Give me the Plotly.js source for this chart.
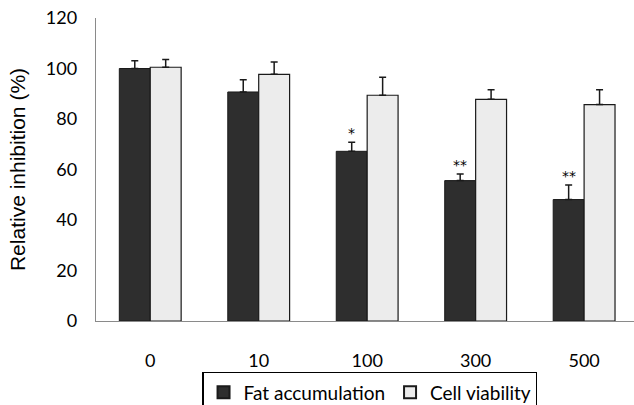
<!DOCTYPE html>
<html>
<head>
<meta charset="utf-8">
<script src="https://cdn.plot.ly/plotly-3.0.1.min.js"></script>
<style>html,body{margin:0;padding:0;background:#fff;}#chart{width:634px;height:405px;}</style>
</head>
<body>
<div id="chart"></div>
<script>
var categories = ["0", "10", "100", "300", "500"];
var fatValues = [100, 90.7, 67.2, 55.6, 48.1];
var fatErrors = [3.1, 4.8, 3.6, 2.6, 5.8];
var cellValues = [100.5, 97.7, 89.4, 87.8, 85.7];
var cellErrors = [3.1, 4.9, 7.1, 3.8, 5.9];
var significance = ["", "", "*", "**", "**"];
var yTicks = [0, 20, 40, 60, 80, 100, 120];

var tickFont = {family: "Lato, 'Open Sans', sans-serif", size: 18, color: "#000"};

var traces = [
  {
    type: "bar", name: "Fat accumulation", x: categories, y: fatValues,
    marker: {color: "#2e2e2e", line: {color: "#1a1a1a", width: 1}},
    error_y: {type: "data", array: fatErrors, arrayminus: fatErrors.map(function(){return 0;}), symmetric: false, color: "#1a1a1a", thickness: 1.5, width: 3.5}
  },
  {
    type: "bar", name: "Cell viability", x: categories, y: cellValues,
    marker: {color: "#ececec", line: {color: "#1a1a1a", width: 1.2}},
    error_y: {type: "data", array: cellErrors, arrayminus: cellErrors.map(function(){return 0;}), symmetric: false, color: "#1a1a1a", thickness: 1.5, width: 3.5}
  }
];

var annotations = [];
for (var i = 0; i < categories.length; i++) {
  if (significance[i]) {
    annotations.push({
      x: i, y: fatValues[i] + fatErrors[i], xref: "x", yref: "y",
      text: significance[i], showarrow: false, xshift: -15.5, yanchor: "bottom", yshift: -1,
      font: {family: "'DejaVu Sans', sans-serif", size: 14, color: "#000"}
    });
  }
}

var layout = {
  width: 634, height: 405,
  margin: {l: 96, r: 0, t: 18, b: 84, pad: 0, autoexpand: false},
  paper_bgcolor: "#fff", plot_bgcolor: "#fff",
  barmode: "group", bargap: 0.43, bargroupgap: 0,
  showlegend: true,
  legend: {
    orientation: "h", x: 0.509, xanchor: "center", y: -0.169, yanchor: "top",
    bordercolor: "#000", borderwidth: 1.2, bgcolor: "#fff",
    font: {family: "Lato, 'Open Sans', sans-serif", size: 19, color: "#000"},
    itemsizing: "constant", traceorder: "normal"
  },
  xaxis: {
    type: "category", range: [-0.5, 4.46],
    showline: true, linecolor: "#8a8a8a", linewidth: 1.2,
    ticks: "outside", ticklen: 23, tickcolor: "rgba(0,0,0,0)",
    tickfont: tickFont, showgrid: false, zeroline: false, fixedrange: true
  },
  yaxis: {
    range: [0, 120], tickvals: yTicks, ticktext: yTicks.map(String),
    showline: true, linecolor: "#8a8a8a", linewidth: 1.2,
    ticks: "outside", ticklen: 14, tickcolor: "rgba(0,0,0,0)",
    tickfont: tickFont, showgrid: false, zeroline: false,
    title: {text: "Relative inhibition (%)", standoff: 14, font: {family: "'Liberation Sans', Arial, sans-serif", size: 21, color: "#000"}}
  },
  annotations: annotations
};

Plotly.newPlot("chart", traces, layout, {displayModeBar: false, staticPlot: true});
</script>
</body>
</html>
